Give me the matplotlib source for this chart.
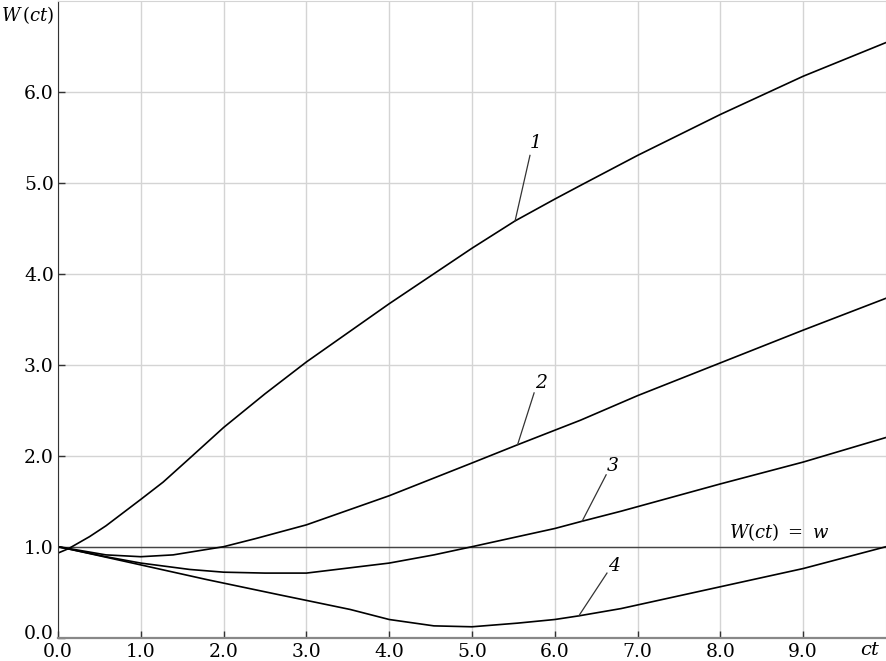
import matplotlib.pyplot as plt
from matplotlib.transforms import ScaledTranslation

# values
x1 = [0, 0.13, 0.38, 0.58, 1, 1.27, 1.6, 2, 2.5, 3, 4, 5, 5.52, 6, 6.31, 7, 8, 9, 10]
y1 = [0.93, 0.98, 1.11, 1.23, 1.52, 1.71, 1.98, 2.31, 2.68, 3.03, 3.67, 4.28, 4.58, 4.82, 4.97, 5.30, 5.75, 6.17, 6.54]

x2 = [0, 0.13, 0.58, 1, 1.39, 2, 2.39, 3, 4, 5, 5.55, 6, 6.31, 7, 8, 9, 10]
y2 = [1.0, 0.98, 0.91, 0.89, 0.91, 1.0, 1.09, 1.24, 1.56, 1.92, 2.12, 2.28, 2.39, 2.66, 3.02, 3.38, 3.73]

x3 = [0, 0.13, 0.58, 1, 1.59, 2, 2.5, 3, 4, 4.54, 5, 6, 6.33, 6.8, 7, 8, 9, 10]
y3 = [1.0, 0.975, 0.89, 0.82, 0.75, 0.72, 0.71, 0.71, 0.82, 0.91, 1.0, 1.20, 1.28, 1.39, 1.44, 1.69, 1.93, 2.20]

x4 = [0, 0.13, 1, 1.79, 2.68, 3, 3.53, 4, 4.54, 5, 5.55, 6, 6.29, 6.8, 7, 8, 9, 10]
y4 = [1.0, 0.975, 0.80, 0.64, 0.47, 0.41, 0.31, 0.20, 0.13, 0.12, 0.16, 0.20, 0.24, 0.32, 0.36, 0.56, 0.76, 1.0]

w_level = 1.0
xticks = [0, 1, 2, 3, 4, 5, 6, 7, 8, 9]
yticks = [0, 1, 2, 3, 4, 5, 6]

# curve labels: text position, leader start, leader end
labels = ["1", "2", "3", "4"]
label_pos = [(5.77, 5.44), (5.83, 2.80), (6.70, 1.89), (6.72, 0.79)]
leader_from = [(5.70, 5.30), (5.75, 2.69), (6.62, 1.79), (6.63, 0.71)]
leader_to = [(5.52, 4.58), (5.55, 2.12), (6.33, 1.28), (6.29, 0.24)]

plt.rcParams["font.family"] = "DejaVu Serif"
plt.rcParams["mathtext.fontset"] = "dejavuserif"
plt.rcParams["font.size"] = 13.5

fig = plt.figure(figsize=(8.87, 6.61), dpi=100)
ax = fig.add_axes([58 / 887, 23.3 / 661, 828 / 887, 637 / 661])

ax.set_xlim(0, 10)
ax.set_ylim(0, 7)
ax.set_xticks(xticks)
ax.set_yticks(yticks)
ax.set_xticklabels(["%.1f" % v for v in xticks])
ax.set_yticklabels(["%.1f" % v for v in yticks])
ax.tick_params(direction="in", length=5, width=1, color="#333333", pad=3)
ax.tick_params(axis="x", pad=3.5)
ax.grid(True, color="#d4d4d4", linewidth=1)
ax.set_axisbelow(True)

# lift the bottom y label a little so it clears the x label "0.0"
lbl0 = ax.get_yticklabels()[0]
lbl0.set_transform(lbl0.get_transform() + ScaledTranslation(0, 4 / 72, fig.dpi_scale_trans))

ax.spines["left"].set_color("#333333")
ax.spines["bottom"].set_color("#888888")
ax.spines["bottom"].set_linewidth(1.6)
ax.spines["top"].set_color("#d4d4d4")
ax.spines["right"].set_color("#d4d4d4")

ax.axhline(w_level, color="#444444", linewidth=1)

for xs, ys in [(x1, y1), (x2, y2), (x3, y3), (x4, y4)]:
    ax.plot(xs, ys, color="black", linewidth=1.2)

for lab, p, a, b in zip(labels, label_pos, leader_from, leader_to):
    ax.text(p[0], p[1], lab, style="italic", ha="center", va="center")
    ax.plot([a[0], b[0]], [a[1], b[1]], color="#333333", linewidth=0.9)

ax.text(8.1, 1.16, r"$W(ct)\ =\ w$", ha="left", va="center", fontsize=13)

fig.text(0.001, 0.977, r"$W\,(ct)$", ha="left", va="center", fontsize=13)
fig.text(0.993, 0.016, r"$ct$", ha="right", va="center", fontsize=14)

plt.savefig("out.png", dpi=100)
